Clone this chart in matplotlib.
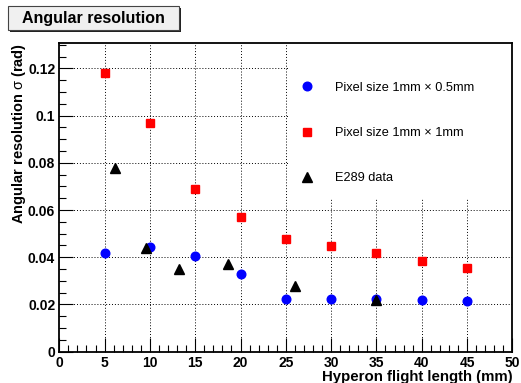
import matplotlib
matplotlib.use("Agg")
import matplotlib.pyplot as plt
from matplotlib.patches import Rectangle
from matplotlib.ticker import MultipleLocator, FixedLocator

plt.rcParams['font.family'] = ['Liberation Sans', 'DejaVu Sans']
plt.rcParams['mathtext.fontset'] = 'custom'
plt.rcParams['mathtext.rm'] = 'Liberation Sans'

# data
x_blue = [5, 10, 15, 20, 25, 30, 35, 40, 45]
y_blue = [0.0417, 0.0443, 0.0405, 0.0330, 0.0223, 0.0223, 0.0222, 0.0218, 0.0213]
x_red = [5, 10, 15, 20, 25, 30, 35, 40, 45]
y_red = [0.1181, 0.0970, 0.0688, 0.0572, 0.0477, 0.0446, 0.0417, 0.0385, 0.0356]
x_e289 = [6.2, 9.55, 13.2, 18.65, 26.0, 35.0]
y_e289 = [0.0780, 0.0440, 0.0350, 0.0370, 0.0278, 0.0220]

label_blue = "Pixel size 1mm × 0.5mm"
label_red = "Pixel size 1mm × 1mm"
label_e289 = "E289 data"

xticks = [0, 5, 10, 15, 20, 25, 30, 35, 40, 45, 50]
xticklabels = ["0", "5", "10", "15", "20", "25", "30", "35", "40", "45", "50"]
yticks = [0, 0.02, 0.04, 0.06, 0.08, 0.1, 0.12]
yticklabels = ["0", "0.02", "0.04", "0.06", "0.08", "0.1", "0.12"]

title = "Angular resolution"
xlabel = "Hyperon flight length (mm)"
ylabel = r"Angular resolution $\mathrm{\sigma}$ (rad)"

W, H = 521, 383
fig = plt.figure(figsize=(W / 100, H / 100), dpi=100)
ax = fig.add_axes([59.3 / W, 1 - 351.7 / H, 453 / W, 308.4 / H])
ax.set_xlim(0, 50)
ax.set_ylim(0, 0.1306)

# grid
for xt in xticks[1:-1]:
    ax.axvline(xt, color='black', lw=0.7, ls=(0, (1, 2)), zorder=1)
for yt in yticks[1:]:
    ax.axhline(yt, color='black', lw=0.7, ls=(0, (1, 2)), zorder=1)

# legend background (white box covering grid)
ax.add_patch(Rectangle((25.2, 0.0651), 24.8, 0.0655, facecolor='white',
                       edgecolor='none', zorder=2))

ax.plot(x_blue, y_blue, 'o', color='blue', ms=6.2, mec='blue', label=label_blue, zorder=3)
ax.plot(x_red, y_red, 's', color='red', ms=6.0, mec='red', label=label_red, zorder=3)
ax.plot(x_e289, y_e289, '^', color='black', ms=6.5, mec='black', label=label_e289, zorder=3)

leg = ax.legend(loc='upper left', bbox_to_anchor=(0.532, 0.875), frameon=False,
                fontsize=9.2, labelspacing=2.6, handlelength=1.0, handletextpad=1.75,
                borderaxespad=0, borderpad=0)

ax.xaxis.set_major_locator(FixedLocator(xticks))
ax.set_xticklabels(xticklabels)
ax.xaxis.set_minor_locator(MultipleLocator(1))
ax.yaxis.set_major_locator(FixedLocator(yticks))
ax.set_yticklabels(yticklabels)
ax.yaxis.set_minor_locator(MultipleLocator(0.005))

ax.tick_params(which='both', direction='in', top=False, right=False, width=0.8)
ax.tick_params(which='major', length=10, labelsize=10, pad=3)
ax.tick_params(which='minor', length=5)
for lab in ax.get_xticklabels() + ax.get_yticklabels():
    lab.set_fontweight('bold')

for s in ax.spines.values():
    s.set_linewidth(1.3)

ax.set_xlabel(xlabel, fontsize=10.8, fontweight='bold', loc='right')
ax.xaxis.set_label_coords(1.0, -0.058)
ax.set_ylabel(ylabel, fontsize=10.5, fontweight='bold', loc='top')
ax.yaxis.set_label_coords(-0.068, 1.0)

# title box
fx = lambda p: p / W
fy = lambda p: 1 - p / H
fig.patches.append(Rectangle((fx(10), fy(32)), fx(171), 24 / H, transform=fig.transFigure,
                             facecolor='#222222', edgecolor='none'))
fig.patches.append(Rectangle((fx(8), fy(30)), fx(171), 24 / H, transform=fig.transFigure,
                             facecolor='#f0f0f0', edgecolor='#444444', lw=0.8))
fig.text(fx(93.5), fy(18.5), title, ha='center', va='center', fontsize=11.5,
         fontweight='bold')

fig.savefig("out.png", dpi=100)
